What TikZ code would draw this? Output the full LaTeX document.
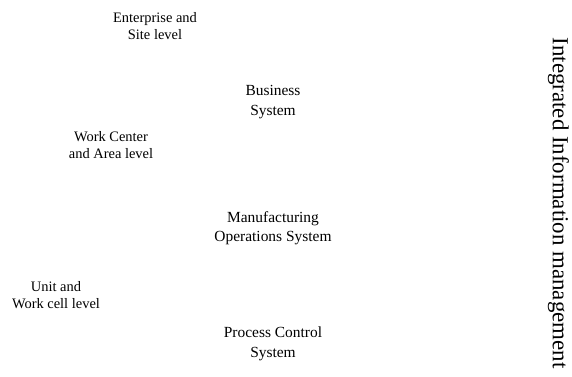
\documentclass[tikz,border=0pt]{standalone}
\usepackage{fontspec}
\setmainfont{Liberation Serif}
\begin{document}
\begin{tikzpicture}[x=1bp,y=-1bp,
  lvl/.style={align=center,inner sep=0pt,font=\fontsize{14.5}{17.5}\selectfont},
  sys/.style={align=center,inner sep=0pt,font=\fontsize{15.5}{19.5}\selectfont}]
\useasboundingbox (0,0) rectangle (572,376);
\node[lvl] (ent) at (155,26) {Enterprise and\\Site level};
\node[sys] (bus) at (273,102) {Business\\System};
\node[lvl] (wc) at (111,145) {Work Center\\and Area level};
\node[sys] (mfg) at (273,228.5) {Manufacturing\\Operations System};
\node[lvl] (unit) at (56,295) {Unit and\\Work cell level};
\node[sys] (pcs) at (273,344) {Process Control\\System};
\node[inner sep=0pt,rotate=-90,font=\fontsize{23}{28}\selectfont] (iim) at (558.5,203) {Integrated Information management};
\end{tikzpicture}
\end{document}
